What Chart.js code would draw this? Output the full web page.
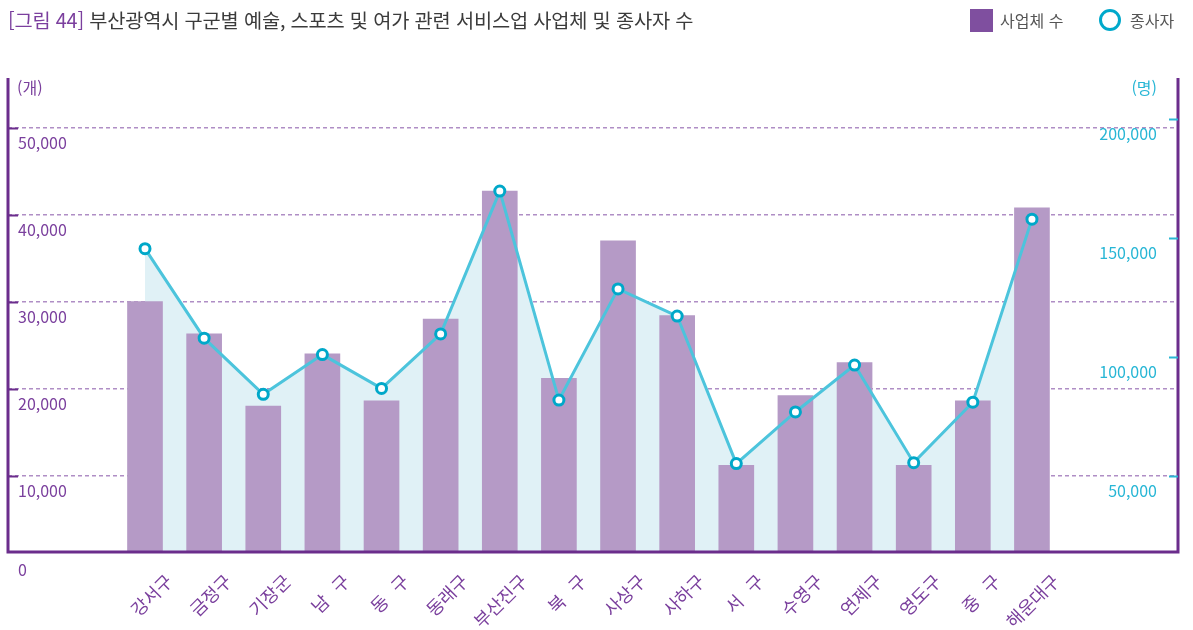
<!DOCTYPE html>
<html lang="ko">
<head>
<meta charset="utf-8">
<title>부산광역시 구군별 예술, 스포츠 및 여가 관련 서비스업 사업체 및 종사자 수</title>
<script src="https://cdn.jsdelivr.net/npm/chart.js@4.4.1/dist/chart.umd.min.js"></script>
<style>
    body { margin: 0; background: #fff; font-family: "Noto Sans CJK KR", "Noto Sans", sans-serif; }
    #wrap { position: relative; width: 1193px; height: 630px; overflow: hidden; }
    #myChart { position: absolute; left: 0; top: 0; }
    .title { position: absolute; left: 8px; top: 5px; font-size: 19.8px; line-height: 30px; color: #3b3b3b; white-space: nowrap; letter-spacing: -0.2px; }
    .title .fig { color: #7b3f9e; }
    .legend { position: absolute; top: 5px; font-size: 16px; line-height: 30px; color: #555; white-space: nowrap; }
    .box { position: absolute; left: 970px; top: 9px; width: 23px; height: 23px; background: #7f4f9f; }
    .ring { position: absolute; left: 1099px; top: 9px; width: 16px; height: 16px; border: 3.5px solid #00a9cb; border-radius: 50%; }
</style>
</head>
<body>
<div id="wrap">
    <canvas id="myChart" width="1193" height="630"></canvas>
    <div class="title"><span class="fig">[그림 44]</span> 부산광역시 구군별 예술, 스포츠 및 여가 관련 서비스업 사업체 및 종사자 수</div>
    <div class="box"></div>
    <div class="legend" style="left:1000px">사업체 수</div>
    <div class="ring"></div>
    <div class="legend" style="left:1130px">종사자</div>
</div>
<script>
// 구·군 이름
const districts = ['강서구', '금정구', '기장군', '남   구', '동   구', '동래구', '부산진구', '북   구',
    '사상구', '사하구', '서   구', '수영구', '연제구', '영도구', '중   구', '해운대구'];

// 사업체 수 (개)
const businesses = [30000, 26300, 18000, 24000, 18600, 28000, 42700, 21200,
    37000, 28400, 11200, 19200, 23000, 11200, 18600, 40800];

// 종사자 수 (명)
const workers = [145500, 107900, 84300, 101000, 86800, 109700, 169700, 81900,
    128600, 117200, 55200, 76900, 96600, 55600, 81000, 157900];

// 축 눈금
const leftTicks = [10000, 20000, 30000, 40000, 50000];
const rightTicks = [50000, 100000, 150000, 200000];

const PURPLE = '#6b2d8c';
const PURPLE_TEXT = '#7a3f9d';
const CYAN_TEXT = '#27b6d5';
const FONT = '"Noto Sans CJK KR", sans-serif';

const fmt = v => v.toLocaleString('en-US');

// 축선, 눈금 표시, 오른쪽 눈금 글자, 단위 글자
const framePlugin = {
    id: 'frame',
    afterDraw(chart) {
        const { ctx, chartArea: a, scales } = chart;
        ctx.save();
        ctx.strokeStyle = PURPLE;
        ctx.lineWidth = 3;
        ctx.beginPath();
        ctx.moveTo(a.left, a.top);
        ctx.lineTo(a.left, a.bottom);
        ctx.lineTo(a.right, a.bottom);
        ctx.lineTo(a.right, a.top);
        ctx.stroke();

        ctx.lineWidth = 2;
        leftTicks.forEach(v => {
            const y = Math.round(scales.y.getPixelForValue(v)) + 0.5;
            ctx.beginPath();
            ctx.moveTo(a.left, y);
            ctx.lineTo(a.left + 10, y);
            ctx.stroke();
        });

        ctx.font = '16px ' + FONT;
        ctx.textBaseline = 'middle';
        ctx.strokeStyle = '#2bb7d4';
        ctx.fillStyle = CYAN_TEXT;
        ctx.textAlign = 'right';
        rightTicks.forEach(v => {
            const y = Math.round(scales.y2.getPixelForValue(v)) + 0.5;
            ctx.beginPath();
            ctx.moveTo(a.right - 9, y);
            ctx.lineTo(a.right, y);
            ctx.stroke();
            ctx.fillText(fmt(v), a.right - 21, y + 14);
        });
        ctx.fillText('(명)', a.right - 21, 88);

        ctx.fillStyle = PURPLE_TEXT;
        ctx.textAlign = 'left';
        ctx.fillText('(개)', a.left + 9, 88);
        ctx.fillText('0', a.left + 10, 570);
        ctx.restore();
    }
};

const ctx = document.getElementById('myChart').getContext('2d');

const myChart = new Chart(ctx, {
    type: 'bar',
    data: {
        datasets: [
            {
                // 종사자 선 아래 면
                type: 'line',
                data: workers.map((v, i) => ({ x: i, y: v })),
                yAxisID: 'y2',
                fill: 'start',
                backgroundColor: '#e0f1f6',
                borderWidth: 0,
                pointRadius: 0,
                order: 3
            },
            {
                label: '사업체 수',
                data: businesses.map((v, i) => ({ x: i, y: v })),
                yAxisID: 'y',
                backgroundColor: '#b59ac6',
                barThickness: 35,
                order: 2
            },
            {
                label: '종사자',
                type: 'line',
                data: workers.map((v, i) => ({ x: i, y: v })),
                yAxisID: 'y2',
                borderColor: '#4cc4dc',
                borderWidth: 3,
                tension: 0,
                pointRadius: 5,
                pointBorderWidth: 3,
                pointBackgroundColor: '#ffffff',
                pointBorderColor: '#00a8c9',
                fill: false,
                order: 1
            }
        ]
    },
    options: {
        responsive: false,
        animation: false,
        devicePixelRatio: 1,
        layout: { padding: { left: 8, right: 15, top: 78, bottom: 0 } },
        plugins: {
            legend: { display: false },
            tooltip: { enabled: false }
        },
        scales: {
            x: {
                type: 'linear',
                offset: false,
                min: -2.317,
                max: 17.47,
                grid: { display: false, drawTicks: false },
                border: { display: false },
                afterBuildTicks: s => { s.ticks = districts.map((_, i) => ({ value: i })); },
                afterFit: s => { s.height = 78; },
                ticks: {
                    autoSkip: false,
                    minRotation: 45,
                    maxRotation: 45,
                    padding: 18,
                    labelOffset: 24,
                    color: PURPLE_TEXT,
                    font: { family: FONT, size: 18 },
                    callback: v => districts[v] ?? ''
                }
            },
            y: {
                position: 'left',
                min: 1230,
                max: 55710,
                z: 1,
                afterBuildTicks: s => { s.ticks = leftTicks.map(v => ({ value: v })); },
                afterFit: s => { s.width = 0; },
                grid: { color: 'rgba(110, 50, 150, 0.55)', lineWidth: 1.5, drawTicks: false },
                border: { display: false, dash: [4, 3] },
                ticks: {
                    mirror: true,
                    padding: 10,
                    labelOffset: 15,
                    color: PURPLE_TEXT,
                    font: { family: FONT, size: 16 },
                    callback: v => fmt(v)
                }
            },
            y2: {
                position: 'right',
                min: 18070,
                max: 217200,
                afterFit: s => { s.width = 0; },
                grid: { display: false, drawTicks: false },
                border: { display: false },
                ticks: { display: false }
            }
        }
    },
    plugins: [framePlugin]
});
</script>
</body>
</html>
